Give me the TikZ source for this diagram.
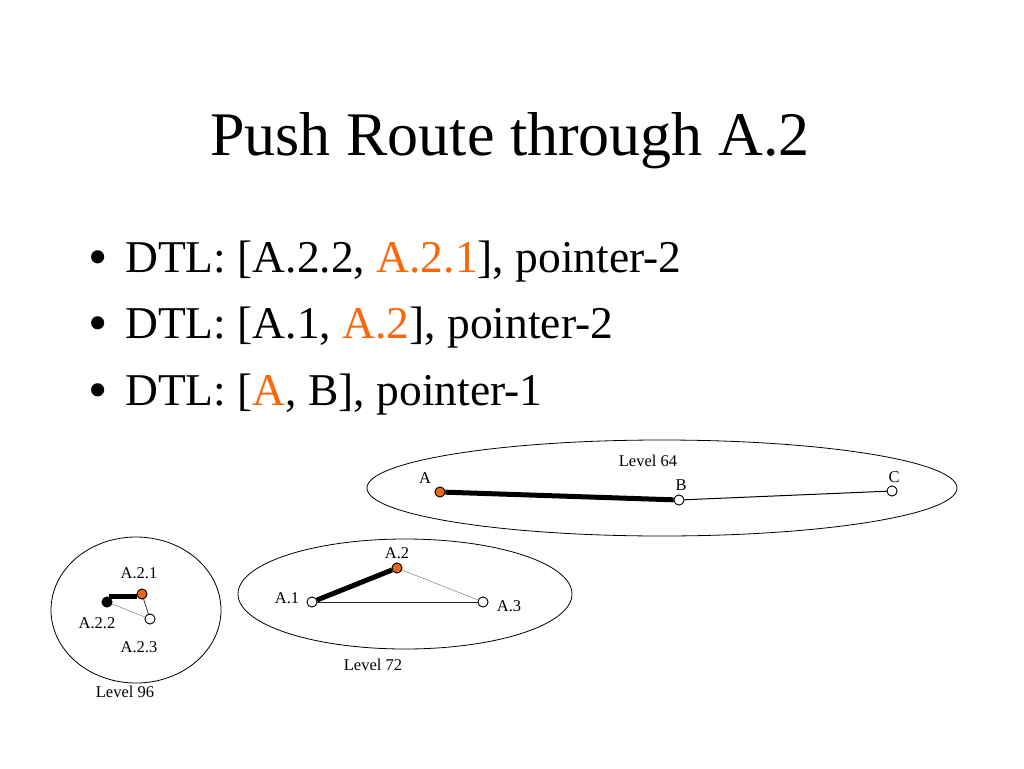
\documentclass[tikz,border=0pt]{standalone}
\usepackage{fontspec}
\setmainfont{Liberation Serif}
\definecolor{hot}{RGB}{250,102,10}
\definecolor{nodeor}{RGB}{235,100,25}
\begin{document}
\begin{tikzpicture}[x=1pt,y=-1pt,
  vert/.style={circle,draw=black,line width=0.8pt,minimum size=10pt,inner sep=0pt,fill=white},
  hotvert/.style={vert,fill=nodeor},
  blackvert/.style={vert,fill=black},
  lab/.style={font=\fontsize{16.5}{16.5}\selectfont,inner sep=0pt},
  lvl/.style={draw=black,line width=0.8pt},
  route/.style={line width=5pt},
  weak/.style={line width=0.5pt,draw=gray},
  plain/.style={line width=1pt,draw=black!85},
  bul/.style={anchor=base west,inner sep=0pt,font=\fontsize{45.5}{45.5}\selectfont},
  dot/.style={anchor=base west,inner sep=0pt,font=\fontsize{55}{55}\selectfont}
]
\useasboundingbox (0,0) rectangle (1024,768);
\fill[white] (0,0) rectangle (1024,768);

% title
\node[anchor=base,inner sep=0pt,font=\fontsize{62}{62}\selectfont] (title) at (510,155) {Push Route through A.2};

% bullets
\node[dot] (b1) at (88,275) {\textbullet};
\node[bul] (t1) at (125,272) {DTL: [A.2.2, \textcolor{hot}{A.2.1}], pointer-2};
\node[dot] (b2) at (88,341) {\textbullet};
\node[bul] (t2) at (125,338) {DTL: [A.1, \textcolor{hot}{A.2}], pointer-2};
\node[dot] (b3) at (88,408) {\textbullet};
\node[bul] (t3) at (125,405) {DTL: [\textcolor{hot}{A}, B], pointer-1};

% Level 64
\draw[lvl] (662,488) ellipse [x radius=295, y radius=48];
\node[lab] (l64) at (648,461) {Level 64};
\node[hotvert] (A) at (440,492) {};
\node[vert] (B) at (679,500) {};
\node[vert] (C) at (892,491) {};
\draw[route] (A) -- (B);
\draw[plain,draw=black] (B) -- (C);
\node[hotvert] at (A) {};
\node[vert] at (B) {};
\node[vert] at (C) {};
\node[lab] (lA) at (425,478) {A};
\node[lab] (lB) at (681,485) {B};
\node[lab] (lC) at (894,477) {C};

% Level 72
\draw[lvl] (405,594) ellipse [x radius=167, y radius=55];
\node[lab] (l72) at (373,665) {Level 72};
\node[vert] (A1) at (312,602) {};
\node[hotvert] (A2) at (397,568) {};
\node[vert] (A3) at (483,602) {};
\draw[plain] (A1) -- (A3);
\draw[weak] (A2) -- (A3);
\draw[route] (A1) -- (A2);
\node[vert] at (A1) {};
\node[hotvert] at (A2) {};
\node[vert] at (A3) {};
\node[lab] (lA1) at (287,598) {A.1};
\node[lab] (lA2) at (397,553) {A.2};
\node[lab] (lA3) at (509,606) {A.3};

% Level 96
\draw[lvl] (136,610) ellipse [x radius=85, y radius=73];
\node[lab] (l96) at (125,692) {Level 96};
\node[hotvert] (A21) at (142,594) {};
\node[blackvert] (A22) at (107,602) {};
\node[vert] (A23) at (150,619) {};
\draw[weak] (A22) -- (A23);
\draw[line width=0.8pt,draw=black!80] (A21) -- (A23);
\draw[route] (A22.70) -- (A22.70 -| A21.west);
\node[hotvert] at (A21) {};
\node[blackvert] at (A22) {};
\node[vert] at (A23) {};
\node[lab] (lA21) at (139,573) {A.2.1};
\node[lab] (lA22) at (97,623) {A.2.2};
\node[lab] (lA23) at (139,647) {A.2.3};
\end{tikzpicture}
\end{document}
